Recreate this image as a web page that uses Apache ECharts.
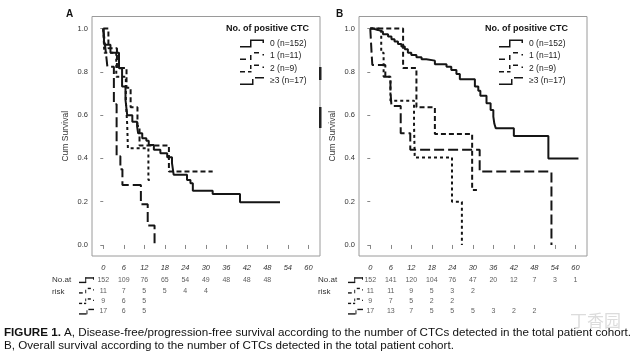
<!DOCTYPE html>
<html>
<head>
<meta charset="utf-8">
<script src="https://cdn.jsdelivr.net/npm/echarts@6/dist/echarts.min.js"></script>
<style>
html, body { margin: 0; padding: 0; background: #fff; }
#chart { width: 640px; height: 351px; }
</style>
</head>
<body>
<div id="chart"></div>
<script>
// axis ticks
const months = [0, 6, 12, 18, 24, 30, 36, 42, 48, 54, 60];
const survTicks = [0, 0.2, 0.4, 0.6, 0.8, 1.0];
const groupNames = ['0 (n=152)', '1 (n=11)', '2 (n=9)', '≥3 (n=17)'];

// A: disease-free / progression-free survival, [month, cum survival]
const dfs0 = [[0, 1], [0.3, 0.925], [2.1, 0.889], [4.6, 0.817], [5.5, 0.732], [6.5, 0.67], [7.0, 0.60], [8.5, 0.57],
  [9.9, 0.547], [10.2, 0.516], [11.4, 0.493], [12.6, 0.482], [13.3, 0.462], [14.8, 0.44], [16.7, 0.424],
  [18.7, 0.405], [20.1, 0.378], [20.6, 0.324], [24.5, 0.30], [25.5, 0.285], [26.2, 0.251], [32, 0.236],
  [40, 0.197], [51.7, 0.197]];
const dfs1 = [[0, 1], [1.5, 0.909], [4.0, 0.818], [6.8, 0.727], [8.0, 0.636], [10.0, 0.55], [10.6, 0.46],
  [19.2, 0.34], [32, 0.34]];
const dfs2 = [[0, 1], [0.3, 0.889], [3.8, 0.778], [6.6, 0.667], [7.0, 0.556], [7.2, 0.447], [13.2, 0.30], [13.6, 0.30]];
const dfs3 = [[0, 1], [0.4, 0.941], [0.8, 0.882], [1.2, 0.824], [3.1, 0.65], [3.9, 0.41], [5.0, 0.35], [5.6, 0.277],
  [11.0, 0.188], [13.0, 0.09], [15.0, 0]];

// B: overall survival
const os0 = [[0, 1], [0.8, 0.994], [2.2, 0.986], [3.7, 0.974], [5.2, 0.963], [6.2, 0.951], [7.1, 0.94], [8.1, 0.929],
  [9.1, 0.917], [10.1, 0.905], [11.0, 0.889], [12.0, 0.878], [13.5, 0.868], [15.0, 0.858], [16.4, 0.852],
  [18.9, 0.835], [22.3, 0.824], [23.7, 0.809], [25.2, 0.79], [26.2, 0.766], [30.6, 0.732], [31.6, 0.713],
  [32.2, 0.69], [34.0, 0.655], [35.2, 0.624], [36.0, 0.593], [36.3, 0.56], [36.7, 0.54], [42.0, 0.504],
  [52.1, 0.40], [60.9, 0.40]];
const os1 = [[0, 1], [9.6, 0.818], [13.5, 0.636], [18.9, 0.513], [29.8, 0.254], [31.2, 0.254]];
const os2 = [[0, 1], [3.2, 0.889], [3.9, 0.778], [5.9, 0.667], [12.8, 0.556], [13.0, 0.404], [23.9, 0.20], [26.8, 0]];
const os3 = [[0, 1], [0.2, 0.941], [0.4, 0.882], [0.6, 0.832], [4.4, 0.778], [5.9, 0.71], [6.2, 0.642], [8.9, 0.516],
  [11.7, 0.44], [32.0, 0.339], [53.0, 0]];

// numbers at risk, one value per tick of months
const riskA0 = [152, 109, 76, 65, 54, 49, 48, 48, 48];
const riskA1 = [11, 7, 5, 5, 4, 4];
const riskA2 = [9, 6, 5];
const riskA3 = [17, 6, 5];
const riskB0 = [152, 141, 120, 104, 76, 47, 20, 12, 7, 3, 1];
const riskB1 = [11, 11, 9, 5, 3, 2];
const riskB2 = [9, 7, 5, 2, 2];
const riskB3 = [17, 13, 7, 5, 5, 5, 3, 2, 2];

const FONT = "'Liberation Sans', Arial, sans-serif";
const INK = '#151515';

// key glyphs (little step shapes), rects [x, y, w, h] in a 24x8 box
const iconRects = [
  [[0, 6.5, 11.5, 1.5], [10, 0, 1.5, 8], [10, 0, 14, 1.5], [22.5, 0, 1.5, 3.5]],
  [[0, 6.5, 6, 1.5], [10, 3, 1.5, 5], [14, 0, 5, 1.5], [22.5, 2, 1.5, 1.5]],
  [[0, 6.5, 5, 1.5], [8, 6.5, 3.5, 1.5], [10, 0.5, 1.5, 4], [14, 0, 5, 1.5], [22.5, 2, 1.5, 1.5]],
  [[0, 6.5, 12, 1.5], [12, 2, 1.5, 6], [15, 0, 9, 1.5]]
];
const iconPath = rects => 'path://' + rects.map(r => `M${r[0]},${r[1]}h${r[2]}v${r[3]}h${-r[2]}z`).join(' ');
const dashes = ['solid', [5, 3], [3, 3], [10, 4]];

function kmSeries(data, idx, axis) {
  return {
    name: groupNames[idx],
    type: 'line',
    step: 'end',
    symbol: 'none',
    xAxisIndex: axis,
    yAxisIndex: axis,
    data: data,
    lineStyle: { color: INK, width: 2, type: dashes[idx], cap: 'butt' },
    itemStyle: { color: INK },
    silent: true
  };
}

function riskSeries(counts, row, axis) {
  return {
    type: 'scatter',
    xAxisIndex: axis,
    yAxisIndex: axis,
    symbolSize: 1,
    itemStyle: { color: 'rgba(0,0,0,0)' },
    data: counts.map((n, i) => [months[i], row, n]),
    label: {
      show: true, position: 'inside', formatter: p => p.value[2],
      fontSize: 7, color: '#333', fontFamily: FONT
    },
    silent: true
  };
}

function plotX(grid) {
  return {
    type: 'value', gridIndex: grid, min: -3.3, max: 63.4,
    axisLine: { show: false }, splitLine: { show: false },
    axisTick: { show: true, customValues: months, length: 4, lineStyle: { color: '#888' } },
    axisLabel: { customValues: months, fontSize: 7.5, fontStyle: 'italic', color: '#333', margin: 8, fontFamily: FONT }
  };
}

function plotY(grid) {
  return {
    type: 'value', gridIndex: grid, min: -0.051, max: 1.056,
    name: 'Cum Survival', nameLocation: 'middle', nameGap: 22,
    nameTextStyle: { fontSize: 8.5, color: '#333', fontFamily: FONT },
    axisLine: { show: false }, splitLine: { show: false },
    axisTick: { show: true, customValues: survTicks, length: 3, lineStyle: { color: '#888' } },
    axisLabel: { customValues: survTicks, formatter: v => v.toFixed(1), fontSize: 7.5, color: '#333', margin: 4, fontFamily: FONT }
  };
}

function riskX(grid) {
  return { type: 'value', gridIndex: grid, min: -3.3, max: 63.4, show: false };
}
function riskY(grid) {
  return { type: 'category', gridIndex: grid, data: ['0', '1', '2', '3'], inverse: true, show: false };
}

function keyLegend(left) {
  return {
    data: groupNames.map((n, i) => ({ name: n, icon: iconPath(iconRects[i]) })),
    left: left, top: 39, orient: 'vertical', padding: 0,
    itemWidth: 26, itemHeight: 8, itemGap: 3.5, selectedMode: false,
    itemStyle: { color: INK, borderWidth: 0 },
    textStyle: { fontSize: 8.5, color: '#222', fontFamily: FONT }
  };
}

// small glyphs in front of each row of the risk table
function riskIcons(left) {
  const rows = [280, 290.5, 301, 311.5];
  const sx = 15 / 24, sy = 5.5 / 8;
  const out = [];
  rows.forEach((cy, i) => {
    iconRects[i].forEach(r => {
      out.push({
        type: 'rect',
        shape: { x: left + r[0] * sx, y: cy - 2.75 + r[1] * sy, width: r[2] * sx, height: Math.max(r[3] * sy, 1.4) },
        style: { fill: INK }
      });
    });
  });
  return out;
}

function textTitle(text, left, top, style) {
  return {
    text: text, left: left, top: top, padding: 0,
    textStyle: Object.assign({ fontFamily: FONT, color: '#222', fontWeight: 'normal' }, style)
  };
}

// caption, fitted so the first line spans the page width
const lead = 'FIGURE 1.';
const capLine1 = ' A, Disease-free/progression-free survival according to the number of CTCs detected in the total patient cohort.';
const capLine2 = 'B, Overall survival according to the number of CTCs detected in the total patient cohort.';
const capSize = 11.5;
function measure(txt, bold) {
  const c = document.createElement('canvas').getContext('2d');
  c.font = (bold ? 'bold ' : '') + capSize + 'px ' + FONT;
  return c.measureText(txt).width;
}
const capScale = 627 / (measure(lead, true) + measure(capLine1, false));

function capText(text, y) {
  return {
    type: 'text', x: 4, y: y, scaleX: capScale, originX: 0, originY: 0,
    style: {
      text: text, x: 0, y: 0, fill: '#111', fontSize: capSize, fontFamily: FONT, verticalAlign: 'middle',
      rich: { b: { fontWeight: 'bold', fontSize: capSize, fontFamily: FONT, fill: '#111' } }
    }
  };
}

const boxGrid = (left, top, height, show) => ({
  left: left, top: top, width: 228, height: height, show: show,
  borderColor: '#9a9a9a', borderWidth: 1, containLabel: false, outerBoundsMode: 'none'
});

const chart = echarts.init(document.getElementById('chart'), null, { renderer: 'canvas' });
chart.setOption({
  animation: false,
  backgroundColor: '#fff',
  textStyle: { fontFamily: FONT },
  title: [
    textTitle('A', 66, 9, { fontSize: 10, fontWeight: 'bold', color: '#111' }),
    textTitle('B', 336, 9, { fontSize: 10, fontWeight: 'bold', color: '#111' }),
    textTitle('No. of positive CTC', 226, 24.5, { fontSize: 9, fontWeight: 'bold', color: '#111' }),
    textTitle('No. of positive CTC', 485, 24.5, { fontSize: 9, fontWeight: 'bold', color: '#111' }),
    textTitle('No.at\nrisk', 52, 274, { fontSize: 8, lineHeight: 12, color: '#333' }),
    textTitle('No.at\nrisk', 318, 274, { fontSize: 8, lineHeight: 12, color: '#333' }),
    textTitle('丁香园', 570, 312, { fontSize: 17, color: '#dcdcdc', fontFamily: "'Noto Sans CJK SC', sans-serif" })
  ],
  legend: [keyLegend(240), keyLegend(499)],
  grid: [
    boxGrid(92, 16.5, 239.5, true),
    boxGrid(359, 16.5, 239.5, true),
    boxGrid(92, 275, 41.5, false),
    boxGrid(359, 275, 41.5, false)
  ],
  xAxis: [plotX(0), plotX(1), riskX(2), riskX(3)],
  yAxis: [plotY(0), plotY(1), riskY(2), riskY(3)],
  series: [
    kmSeries(dfs0, 0, 0), kmSeries(dfs1, 1, 0), kmSeries(dfs2, 2, 0), kmSeries(dfs3, 3, 0),
    kmSeries(os0, 0, 1), kmSeries(os1, 1, 1), kmSeries(os2, 2, 1), kmSeries(os3, 3, 1),
    riskSeries(riskA0, 0, 2), riskSeries(riskA1, 1, 2), riskSeries(riskA2, 2, 2), riskSeries(riskA3, 3, 2),
    riskSeries(riskB0, 0, 3), riskSeries(riskB1, 1, 3), riskSeries(riskB2, 2, 3), riskSeries(riskB3, 3, 3)
  ],
  graphic: riskIcons(79).concat(riskIcons(348)).concat([
    { type: 'rect', shape: { x: 319, y: 67, width: 2.5, height: 13 }, style: { fill: '#222' } },
    { type: 'rect', shape: { x: 319, y: 107, width: 2.5, height: 21 }, style: { fill: '#222' } },
    capText('{b|' + lead + '}' + capLine1, 333),
    capText(capLine2, 346)
  ])
});
</script>
</body>
</html>
